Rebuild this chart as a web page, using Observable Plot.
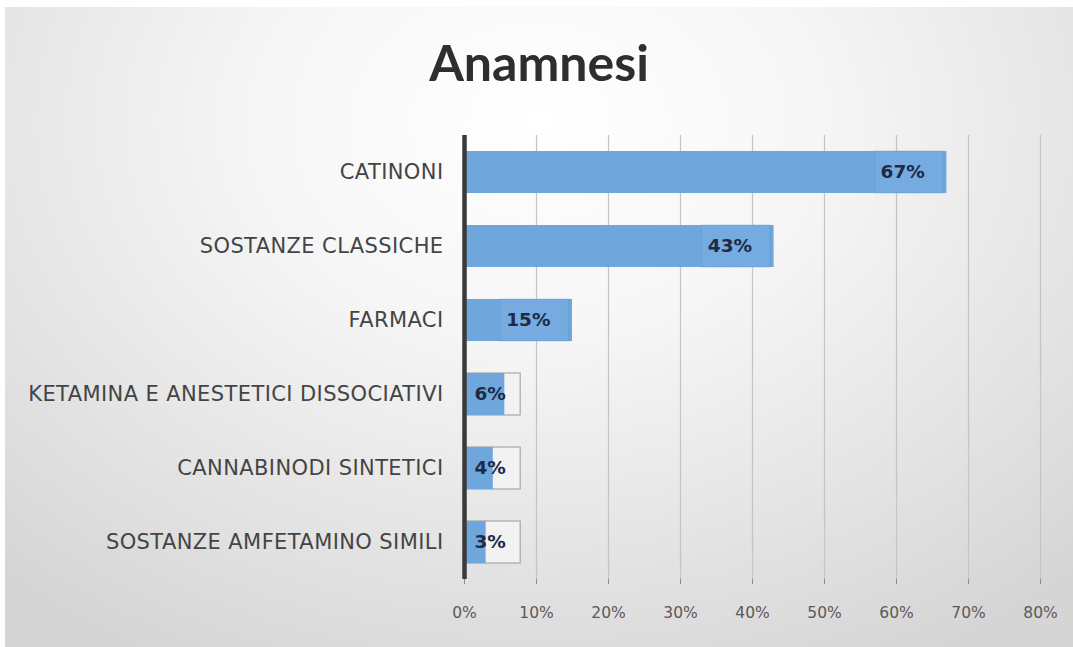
<!DOCTYPE html>
<html>
<head>
<meta charset="utf-8">
<script src="https://cdn.jsdelivr.net/npm/d3@7"></script>
<script src="https://cdn.jsdelivr.net/npm/@observablehq/plot@0.6"></script>
<style>
  html, body { margin: 0; padding: 0; background: #ffffff; }
  #frame {
    position: absolute; left: 5px; top: 7px; width: 1068px; height: 640px;
    background: radial-gradient(ellipse 75% 95% at 50% 18%, #ffffff 0%, #f6f6f6 35%, #e2e2e2 75%, #d5d5d5 100%);
    overflow: hidden;
  }
  #title {
    position: absolute; left: 0; top: 25px; width: 1068px; text-align: center;
    font-family: Lato, "Open Sans", sans-serif; font-weight: 700; font-size: 50px;
    color: #2e2e2e; line-height: 60px;
  }
  #chart { position: absolute; left: 0; top: 113px; }
  #chart svg { background: transparent; overflow: visible; }
  #chart g[aria-label="y-axis tick label"] text { letter-spacing: 0.4px; }
</style>
</head>
<body>
<div id="frame">
  <div id="title">Anamnesi</div>
  <div id="chart"></div>
</div>
<script>
const categories = [
  "CATINONI",
  "SOSTANZE CLASSICHE",
  "FARMACI",
  "KETAMINA E ANESTETICI DISSOCIATIVI",
  "CANNABINODI SINTETICI",
  "SOSTANZE AMFETAMINO SIMILI"
];
const values = [0.67, 0.43, 0.15, 0.056, 0.04, 0.03];
const xTicks = [0, 0.1, 0.2, 0.3, 0.4, 0.5, 0.6, 0.7, 0.8];

const data = categories.map((c, i) => ({category: c, value: values[i]}));
const big = data.filter(d => d.value >= 0.1);
const small = data.filter(d => d.value < 0.1);
const fmt = d3.format(".0%");

const chart = Plot.plot({
  width: 1068,
  height: 527,
  marginTop: 15,
  marginBottom: 68,
  marginLeft: 459,
  marginRight: 33,
  style: {fontFamily: "'DejaVu Sans', sans-serif", fontSize: "16px", color: "#595959", background: "transparent"},
  x: {domain: [0, 0.8], label: null},
  y: {domain: categories, label: null, paddingInner: 0.43, paddingOuter: 0.215},
  marks: [
    Plot.gridX(xTicks.slice(1), {stroke: "#c4c4c4", strokeOpacity: 1, strokeWidth: 1.2}),
    Plot.axisX(xTicks, {tickFormat: fmt, tickSize: 5, tickPadding: 22, stroke: "#8a8a8a", fill: "#5a5a5a", fontSize: 15.5, label: null}),
    Plot.axisY({tickSize: 0, tickPadding: 21, fill: "#444444", fontSize: 21, label: null}),
    Plot.barX(small, {y: "category", x1: 0, x2: () => 0.078, fill: "#f2f2f2", stroke: "#9a9a9a", strokeWidth: 1}),
    Plot.barX(data, {y: "category", x: "value", fill: "#6fa6dc"}),
    Plot.barX(big, {y: "category", x1: d => d.value - 0.1, x2: d => d.value - 0.005, fill: "#7aafe2", fillOpacity: 0.6, stroke: "#5d8fc2", strokeOpacity: 0.35}),
    Plot.text(big, {y: "category", x: "value", text: d => fmt(d.value), textAnchor: "end", dx: -22, fill: "#1e2a46", fontWeight: "bold", fontSize: 18.5}),
    Plot.text(small, {y: "category", x: () => 0, text: d => fmt(d.value), textAnchor: "start", dx: 10, fill: "#1e2a46", fontWeight: "bold", fontSize: 18.5}),
    Plot.ruleX([0], {stroke: "#3a3a3a", strokeWidth: 4.5})
  ]
});
document.getElementById("chart").appendChild(chart);
</script>
</body>
</html>
